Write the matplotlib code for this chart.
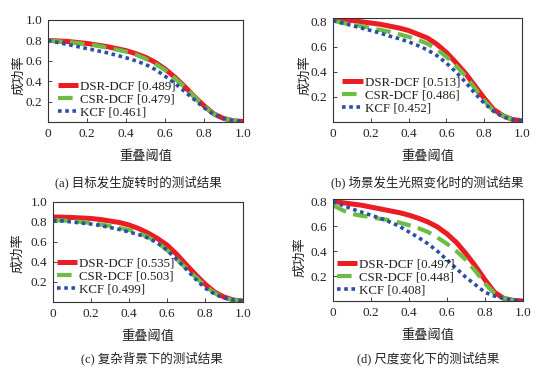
import matplotlib
matplotlib.use("Agg")
import matplotlib.pyplot as plt

plt.rcParams['font.family'] = ['Liberation Serif', 'Noto Sans CJK SC']
plt.rcParams['axes.unicode_minus'] = False

x_thr = [0.0, 0.05, 0.1, 0.15, 0.2, 0.25, 0.3, 0.35, 0.4, 0.45, 0.5,
         0.55, 0.6, 0.65, 0.7, 0.75, 0.8, 0.85, 0.9, 0.95, 1.0]

# (a)
a_dsr = [.80, .795, .79, .78, .77, .755, .74, .72, .70, .67, .635, .585, .52, .44, .35, .25, .16, .08, .035, .012, .005]
a_csr = [.80, .79, .785, .775, .76, .75, .73, .71, .69, .66, .62, .57, .51, .43, .345, .25, .155, .08, .035, .012, .005]
a_kcf = [.80, .78, .76, .74, .72, .70, .68, .655, .63, .60, .565, .515, .45, .38, .30, .22, .14, .075, .035, .012, .005]
# (b)
b_dsr = [.82, .815, .81, .80, .79, .78, .765, .75, .73, .70, .67, .62, .555, .475, .39, .29, .19, .10, .05, .02, .01]
b_csr = [.81, .79, .78, .765, .75, .735, .72, .70, .68, .655, .625, .58, .52, .45, .37, .27, .17, .09, .05, .02, .01]
b_kcf = [.81, .79, .77, .75, .73, .71, .685, .665, .64, .61, .575, .53, .47, .40, .32, .23, .15, .085, .04, .02, .01]
# (c)
c_dsr = [.85, .848, .845, .84, .835, .825, .81, .795, .77, .735, .69, .635, .57, .48, .375, .275, .18, .10, .05, .02, .01]
c_csr = [.82, .815, .81, .80, .79, .775, .76, .74, .72, .69, .65, .595, .52, .43, .34, .25, .16, .09, .04, .02, .01]
c_kcf = [.82, .81, .80, .79, .78, .765, .745, .725, .70, .675, .64, .59, .52, .43, .33, .23, .14, .08, .04, .02, .01]
# (d)
d_dsr = [.80, .79, .78, .77, .755, .74, .725, .71, .69, .665, .635, .595, .54, .47, .38, .28, .17, .07, .02, .005, .0]
d_csr = [.77, .73, .70, .685, .675, .66, .65, .63, .61, .585, .555, .51, .46, .40, .33, .24, .14, .06, .02, .005, .0]
d_kcf = [.80, .77, .74, .715, .69, .665, .635, .60, .555, .51, .46, .40, .33, .26, .19, .13, .07, .04, .02, .008, .0]

series_names = ['DSR-DCF', 'CSR-DCF', 'KCF']
scores_a = [0.489, 0.479, 0.461]
scores_b = [0.513, 0.486, 0.452]
scores_c = [0.535, 0.503, 0.499]
scores_d = [0.497, 0.448, 0.408]

captions = ['(a) 目标发生旋转时的测试结果', '(b) 场景发生光照变化时的测试结果',
            '(c) 复杂背景下的测试结果', '(d) 尺度变化下的测试结果']
xlabel_text = '重叠阈值'
ylabel_text = '成功率'
xtick_vals = [0, 0.2, 0.4, 0.6, 0.8, 1.0]
xtick_labels = ['0', '0.2', '0.4', '0.6', '0.8', '1.0']

colors = ['#ec1c24', '#6cbd45', '#2b4ea6']

panels = [
    dict(rect=[48/549, 1-122/369, 195/549, 102/369], data=(a_dsr, a_csr, a_kcf), scores=scores_a,
         ymax=1.0, yticks=[0.2, 0.4, 0.6, 0.8, 1.0], leg=(0.05, 0.03), cap=(138, 182), ylab=(19, 75)),
    dict(rect=[333/549, 1-122/369, 189/549, 104/369], data=(b_dsr, b_csr, b_kcf), scores=scores_b,
         ymax=0.83, yticks=[0.2, 0.4, 0.6, 0.8], leg=(0.05, 0.07), cap=(427, 182), ylab=(305, 75)),
    dict(rect=[53/549, 1-302/369, 190/549, 100/369], data=(c_dsr, c_csr, c_kcf), scores=scores_c,
         ymax=1.0, yticks=[0.2, 0.4, 0.6, 0.8, 1.0], leg=(0.02, 0.06), cap=(152, 358), ylab=(18, 253)),
    dict(rect=[333/549, 1-301/369, 190/549, 102/369], data=(d_dsr, d_csr, d_kcf), scores=scores_d,
         ymax=0.82, yticks=[0.2, 0.4, 0.6, 0.8], leg=(0.02, 0.04), cap=(428, 358), ylab=(300, 257)),
]

fig = plt.figure(figsize=(5.49, 3.69), dpi=100)
W, H = 549, 369

for i, p in enumerate(panels):
    ax = fig.add_axes(p['rect'])
    dsr, csr, kcf = p['data']
    labs = [f'{n} [{s:.3f}]' for n, s in zip(series_names, p['scores'])]
    ax.plot(x_thr, dsr, color=colors[0], lw=3.6, solid_capstyle='butt', solid_joinstyle='round', label=labs[0])
    ax.plot(x_thr, csr, color=colors[1], lw=3.0, dashes=(3.5, 1.8), label=labs[1])
    ax.plot(x_thr, kcf, color=colors[2], lw=2.6, dashes=(1, 1), label=labs[2])
    ax.set_xlim(0, 1.0)
    ax.set_ylim(0, p['ymax'])
    ax.set_xticks(xtick_vals)
    ax.set_xticklabels(xtick_labels)
    ax.set_yticks(p['yticks'])
    ax.set_yticklabels([f'{v:.1f}' for v in p['yticks']])
    ax.tick_params(direction='in', length=3, width=0.6, labelsize=9.5, pad=4, colors='#222222')
    for s in ax.spines.values():
        s.set_linewidth(0.8)
        s.set_color('#333333')
    ax.set_xlabel(xlabel_text, fontsize=9.5, labelpad=8, color='#222222')
    leg = ax.legend(loc='lower left', bbox_to_anchor=p['leg'], frameon=False, fontsize=9.3,
                    handlelength=1.6, handletextpad=0.15, labelspacing=0.08,
                    borderpad=0, borderaxespad=0)
    for t in leg.get_texts():
        t.set_color('#222222')
    cx, cy = p['cap']
    fig.text(cx / W, 1 - cy / H, captions[i], ha='center', va='center', fontsize=9, color='#222222')
    lx, ly = p['ylab']
    fig.text(lx / W, 1 - ly / H, ylabel_text, ha='center', va='center', rotation=90,
             fontsize=9.5, color='#222222')

fig.savefig('out.png', dpi=100)
